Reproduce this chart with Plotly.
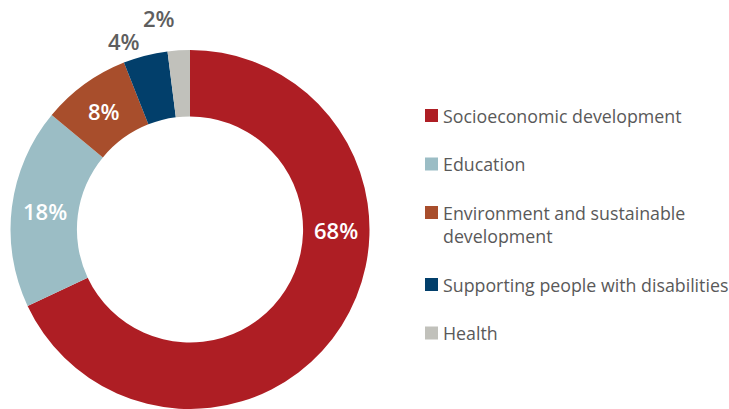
import math
import plotly.graph_objects as go

# ---- data ----
categories = [
    "Socioeconomic development",
    "Education",
    "Environment and sustainable<br>development",
    "Supporting people with disabilities",
    "Health",
]
values = [68, 18, 8, 4, 2]
colors = ["#AE1E24", "#9BBDC5", "#A84E2C", "#023F6B", "#C1C1BB"]
label_inside = [True, True, True, False, False]

W, H = 729, 409
# pie placement (pixels)
PX0, PX1 = 10, 370
PY_TOP, PY_BOT = 50, 409
HOLE = 0.63

fig = go.Figure(
    go.Pie(
        labels=[c.replace("<br>", " ") for c in categories],
        values=values,
        marker=dict(colors=colors, line=dict(width=0)),
        hole=HOLE,
        sort=False,
        direction="clockwise",
        rotation=0,
        textinfo="none",
        showlegend=False,
        domain=dict(x=[PX0 / W, PX1 / W], y=[1 - PY_BOT / H, 1 - PY_TOP / H]),
    )
)

# geometry for labels
R = min(PX1 - PX0, PY_BOT - PY_TOP) / 2
cx = (PX0 + PX1) / 2
cy = PY_TOP + R
r_mid = R * (1 + HOLE) / 2

total = sum(values)
annotations = []
shapes = []
cum = 0
outside_r = {3: R + 15, 4: R + 32}
for i, v in enumerate(values):
    a0 = cum / total * 360
    cum += v
    a1 = cum / total * 360
    mid = (a0 + a1) / 2
    txt = f"{round(v / total * 100)}%"
    if label_inside[i]:
        ang = 90 if i == 0 else mid
        x = cx + r_mid * math.sin(math.radians(ang))
        y = cy - r_mid * math.cos(math.radians(ang))
        annotations.append(dict(
            x=x / W, y=1 - y / H, xref="paper", yref="paper", text=txt,
            showarrow=False, xanchor="center", yanchor="middle",
            font=dict(family="Open Sans", size=22, color="white", weight=600),
        ))
    else:
        r = outside_r[i]
        x = cx + r * math.sin(math.radians(mid))
        y = cy - r * math.cos(math.radians(mid))
        annotations.append(dict(
            x=x / W, y=1 - y / H, xref="paper", yref="paper", text=txt,
            showarrow=False, xanchor="right", yanchor="middle",
            font=dict(family="Open Sans", size=22, color="#5E5E5E", weight=600),
        ))

# manual legend
LX_SQ0, LX_SQ1 = 425, 438
LX_TXT = 441
ly = 115.5
for i, (c, col) in enumerate(zip(categories, colors)):
    nlines = c.count("<br>") + 1
    shapes.append(dict(
        type="rect", xref="paper", yref="paper",
        x0=LX_SQ0 / W, x1=LX_SQ1 / W, y0=1 - (ly - 6.5) / H, y1=1 - (ly + 6.5) / H,
        fillcolor=col, line=dict(width=0),
    ))
    ty = ly + (nlines - 1) * 23.5 / 2
    annotations.append(dict(
        x=LX_TXT / W, y=1 - ty / H, xref="paper", yref="paper", text=c,
        showarrow=False, xanchor="left", yanchor="middle", align="left",
        font=dict(family="Open Sans", size=17.8, color="#595959"),
    ))
    ly += 48.5 + (nlines - 1) * 23.5

fig.update_layout(
    width=W, height=H,
    margin=dict(l=0, r=0, t=0, b=0),
    paper_bgcolor="white", plot_bgcolor="white",
    annotations=annotations, shapes=shapes,
    showlegend=False,
)

fig.write_html("out.html")
